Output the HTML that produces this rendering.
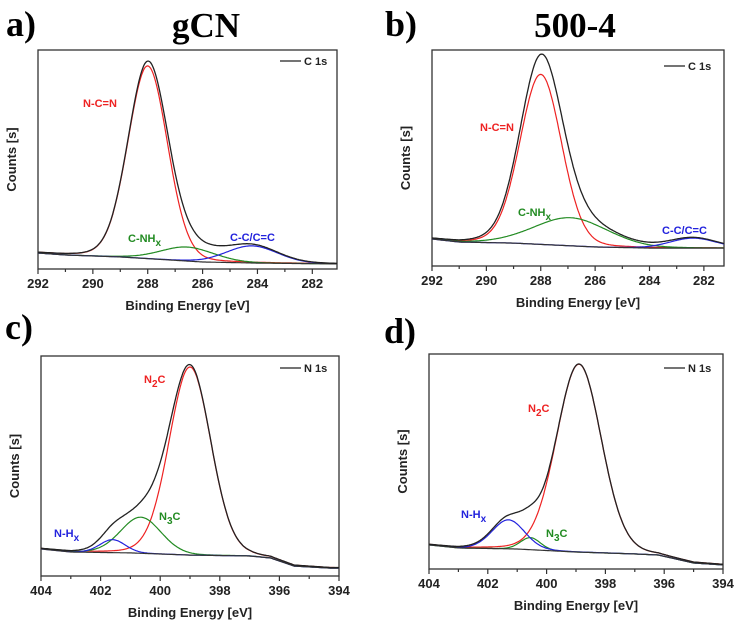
<!DOCTYPE html>
<html><head><meta charset="utf-8"><style>
html,body{margin:0;padding:0;background:#fff;}
svg{display:block;font-family:"Liberation Sans",Arial,sans-serif;}
</style></head><body>
<svg id="fig" width="738" height="623" viewBox="0 0 738 623" xmlns="http://www.w3.org/2000/svg"></svg>
<script>
// ---- Panel a (gCN, C 1s) ----
const aBgE = [292, 291, 289, 286, 284, 281];
const aBgV = [7.3, 6.4, 5.5, 3.2, 2.7, 2.3];
const aCenters = [288.0, 286.55, 284.2];
const aHeights = [88, 6.4, 7.8];
const aFwhm = [1.7, 2.3, 2.2];
// ---- Panel b (500-4, C 1s) ----
const bBgE = [292, 291, 289, 287.5, 286, 284, 281];
const bBgV = [12.5, 11.1, 10.6, 9.7, 8.8, 8.3, 8.3];
const bCenters = [288.0, 286.9, 282.4];
const bHeights = [78.7, 13, 4.6];
const bFwhm = [1.8, 3.2, 2.0];
// ---- Panel c (gCN, N 1s) ----
const cBgE = [404, 403, 401, 399, 397, 396.3, 395.5, 394.3, 394];
const cBgV = [12.3, 10.9, 10.5, 9.5, 9.1, 8.2, 4.5, 3.6, 3.6];
const cCenters = [399.0, 400.65, 401.6];
const cHeights = [85.5, 16.4, 5.9];
const cFwhm = [1.65, 1.6, 1.0];
// ---- Panel d (500-4, N 1s) ----
const dBgE = [404, 403, 401, 399, 397, 396.2, 395, 394];
const dBgV = [11.2, 9.8, 9.3, 7.9, 7.0, 6.5, 2.8, 1.9];
const dCenters = [398.9, 400.55, 401.3];
const dHeights = [87.4, 5.6, 13.5];
const dFwhm = [1.8, 0.8, 1.3];
// tick labels
const cTicks = ["292", "290", "288", "286", "284", "282"];
const nTicks = ["404", "402", "400", "398", "396", "394"];

const NS = "http://www.w3.org/2000/svg";
const svg = document.getElementById("fig");
function el(tag, attrs, parent) {
  const e = document.createElementNS(NS, tag);
  for (const k in attrs) e.setAttribute(k, attrs[k]);
  (parent || svg).appendChild(e);
  return e;
}
function interp(xs, ys, x) {
  for (let i = 0; i < xs.length - 1; i++) {
    const x0 = xs[i], x1 = xs[i + 1];
    if ((x >= Math.min(x0, x1)) && (x <= Math.max(x0, x1))) {
      return ys[i] + (ys[i + 1] - ys[i]) * (x - x0) / (x1 - x0);
    }
  }
  return (x > Math.max(xs[0], xs[xs.length-1])) === (xs[0] > xs[xs.length-1]) ? ys[0] : ys[ys.length - 1];
}
function pv(x, c, h, w) {
  const t = (x - c) / (w / 2);
  const g = Math.exp(-Math.LN2 * t * t);
  const l = 1 / (1 + t * t);
  return h * (0.9 * g + 0.1 * l);
}
const colors = ["#ee2222", "#228b22", "#2222dd"];

function panel(cfg) {
  const g = el("g", {});
  
  
  const {x0, x1, yTop, yBot, e0, e1} = cfg;
  const X = e => x0 + (e0 - e) / (e0 - e1) * (x1 - x0);
  const Y = v => yBot - v / 100 * (yBot - yTop);
  const fr = el("rect", {x: x0, y: yTop, width: x1 - x0, height: yBot - yTop, fill: "none", stroke: "#333", "stroke-width": 1.3}, g);
  
  
  for (let e = Math.ceil(Math.min(e0, e1)); e <= Math.max(e0, e1); e++) {
    const major = (e % 2 === 0);
    const t = el("line", {x1: X(e), x2: X(e), y1: yBot, y2: yBot + (major ? 5 : 3), stroke: "#333", "stroke-width": 1.2}, g);
    
    
  }
  cfg.ticks.forEach(lbl => {
    const t = el("text", {x: X(+lbl), y: yBot + 19, "text-anchor": "middle", "font-size": 13, "font-weight": "bold", fill: "#222"}, g);
    t.textContent = lbl;
    
    
  });
  const xt = el("text", {x: (x0 + x1) / 2, y: yBot + 41, "text-anchor": "middle", "font-size": 13, "font-weight": "bold", fill: "#222"}, g);
  xt.textContent = "Binding Energy [eV]";
  
  
  const yx = x0 - 22, yy = (yTop + yBot) / 2;
  const yt = el("text", {x: yx, y: yy, "text-anchor": "middle", "font-size": 13, "font-weight": "bold", fill: "#222", transform: `rotate(-90 ${yx} ${yy})`}, g);
  yt.textContent = "Counts [s]";
  
  
  const N = 300;
  const pts = [];
  for (let i = 0; i <= N; i++) pts.push(e0 + (e1 - e0) * i / N);
  const bg = e => interp(cfg.bgE, cfg.bgV, e);
  cfg.centers.forEach((c, k) => {
    let d = "";
    pts.forEach((e, i) => { d += (i ? "L" : "M") + X(e).toFixed(1) + "," + Y(bg(e) + pv(e, c, cfg.heights[k], cfg.fwhm[k])).toFixed(1); });
    const p = el("path", {d, fill: "none", stroke: cfg.colors[k], "stroke-width": 1.2}, g);
    
    
  });
  let db = "", de = "";
  pts.forEach((e, i) => {
    db += (i ? "L" : "M") + X(e).toFixed(1) + "," + Y(bg(e)).toFixed(1);
    let s = bg(e);
    cfg.centers.forEach((c, k) => { s += pv(e, c, cfg.heights[k], cfg.fwhm[k]); });
    de += (i ? "L" : "M") + X(e).toFixed(1) + "," + Y(s).toFixed(1);
  });
  const pb = el("path", {d: db, fill: "none", stroke: "#333", "stroke-width": 1.2}, g);
  
  
  const pe = el("path", {d: de, fill: "none", stroke: "#222", "stroke-width": 1.3}, g);
  
  
  const lg = el("g", {}, g);
  
  
  el("line", {x1: cfg.leg[0], x2: cfg.leg[0] + 21, y1: cfg.leg[1], y2: cfg.leg[1], stroke: "#222", "stroke-width": 1.3}, lg);
  const lt = el("text", {x: cfg.leg[0] + 24, y: cfg.leg[1] + 4, "font-size": 11, "font-weight": "bold", fill: "#222"}, lg);
  lt.textContent = cfg.legText;
  cfg.labels.forEach(L => {
    const t = el("text", {x: L.x, y: L.y, "font-size": 11, "font-weight": "bold", fill: L.c}, g);
    
    
    const a = el("tspan", {}, t); a.textContent = L.a;
    if (L.s) {
      const s = el("tspan", {dy: 4, "font-size": 10}, t); s.textContent = L.s;
      if (L.b) { const b = el("tspan", {dy: -4}, t); b.textContent = L.b; }
    }
  });
  const pl = el("text", {x: cfg.pl[0], y: cfg.pl[1], "font-family": "Liberation Serif, serif", "font-size": 36, "font-weight": "bold", fill: "#000"}, g);
  pl.textContent = cfg.plText;
  
  
  if (cfg.title) {
    const tt = el("text", {x: cfg.title[0], y: cfg.title[1], "text-anchor": "middle", "font-family": "Liberation Serif, serif", "font-size": 35, "font-weight": "bold", fill: "#000"}, g);
    tt.textContent = cfg.title[2];
    
    
  }
}
const cNames = ["n-c-n", "c-nhx", "c-c"];
const nNames = ["n2c", "n3c", "n-hx"];
panel({name: "panel-a-gcn-c1s", x0: 38, x1: 337, yTop: 50, yBot: 269, e0: 292, e1: 281.1, ticks: cTicks,
  bgE: aBgE, bgV: aBgV, centers: aCenters, heights: aHeights, fwhm: aFwhm, colors: colors, compNames: cNames,
  leg: [280, 61], legText: "C 1s", pl: [6, 36], plText: "a)", title: [206, 37, "gCN"],
  labels: [{x: 83, y: 107, c: "#ee2222", a: "N-C=N"}, {x: 128, y: 242, c: "#228b22", a: "C-NH", s: "x"}, {x: 230, y: 241, c: "#2222dd", a: "C-C/C=C"}]});
panel({name: "panel-b-5004-c1s", x0: 432, x1: 724, yTop: 50, yBot: 266, e0: 292, e1: 281.26, ticks: cTicks,
  bgE: bBgE, bgV: bBgV, centers: bCenters, heights: bHeights, fwhm: bFwhm, colors: colors, compNames: cNames,
  leg: [664, 66], legText: "C 1s", pl: [385, 36], plText: "b)", title: [575, 37, "500-4"],
  labels: [{x: 480, y: 131, c: "#ee2222", a: "N-C=N"}, {x: 518, y: 216, c: "#228b22", a: "C-NH", s: "x"}, {x: 662, y: 234, c: "#2222dd", a: "C-C/C=C"}]});
panel({name: "panel-c-gcn-n1s", x0: 41, x1: 339, yTop: 356, yBot: 576, e0: 404, e1: 394, ticks: nTicks,
  bgE: cBgE, bgV: cBgV, centers: cCenters, heights: cHeights, fwhm: cFwhm, colors: colors, compNames: nNames,
  leg: [280, 368], legText: "N 1s", pl: [5, 339], plText: "c)", title: null,
  labels: [{x: 144, y: 383, c: "#ee2222", a: "N", s: "2", b: "C"}, {x: 159, y: 520, c: "#228b22", a: "N", s: "3", b: "C"}, {x: 54, y: 537, c: "#2222dd", a: "N-H", s: "x"}]});
panel({name: "panel-d-5004-n1s", x0: 429, x1: 723, yTop: 354, yBot: 569, e0: 404, e1: 394, ticks: nTicks,
  bgE: dBgE, bgV: dBgV, centers: dCenters, heights: dHeights, fwhm: dFwhm, colors: colors, compNames: nNames,
  leg: [664, 368], legText: "N 1s", pl: [384, 343], plText: "d)", title: null,
  labels: [{x: 528, y: 412, c: "#ee2222", a: "N", s: "2", b: "C"}, {x: 546, y: 537, c: "#228b22", a: "N", s: "3", b: "C"}, {x: 461, y: 518, c: "#2222dd", a: "N-H", s: "x"}]});
</script>
</body></html>
